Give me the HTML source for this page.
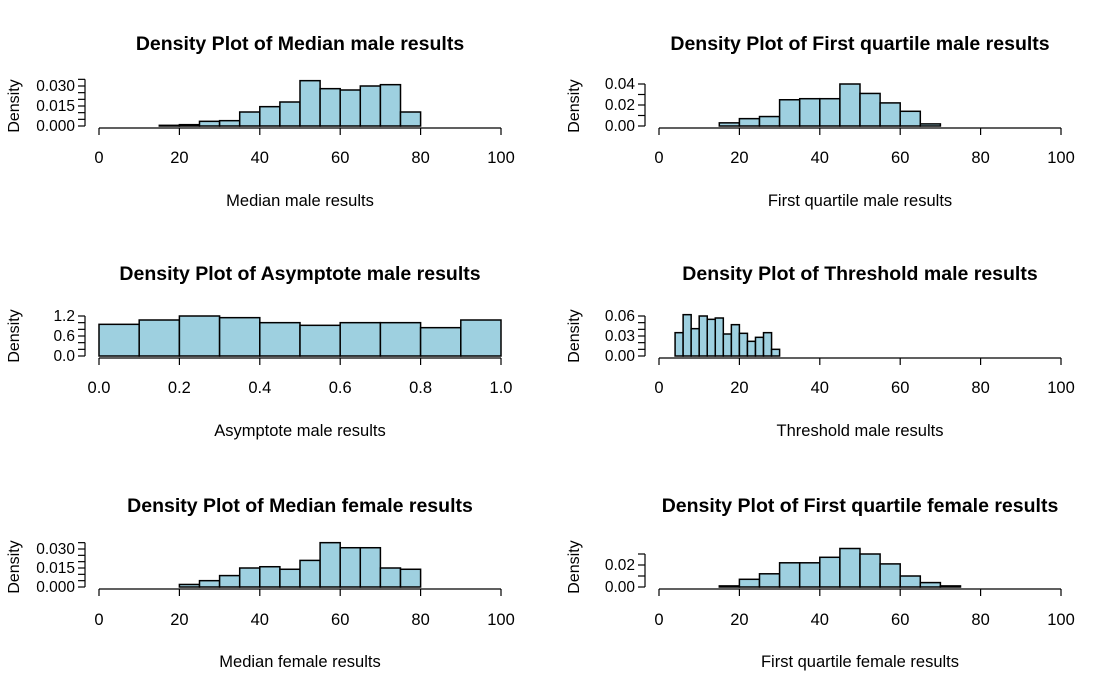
<!DOCTYPE html>
<html><head><meta charset="utf-8">
<style>
body{margin:0;background:#fff;}
svg{display:block;font-family:"Liberation Sans",Arial,sans-serif;}
</style></head>
<body>
<svg id="c" width="1120" height="692" viewBox="0 0 1120 692"></svg>
<script>
const titles=["Density Plot of Median male results","Density Plot of First quartile male results","Density Plot of Asymptote male results","Density Plot of Threshold male results","Density Plot of Median female results","Density Plot of First quartile female results"];
const xLabels=["Median male results","First quartile male results","Asymptote male results","Threshold male results","Median female results","First quartile female results"];
const binStarts=[15,15,0,4,20,15];
const binWidths=[5,5,0.1,2,5,5];
const dens1=[0.0005,0.001,0.0035,0.004,0.0105,0.0145,0.018,0.034,0.028,0.027,0.030,0.031,0.0105];
const dens2=[0.003,0.007,0.009,0.025,0.026,0.026,0.040,0.031,0.022,0.014,0.002];
const dens3=[0.95,1.08,1.2,1.15,1.0,0.92,1.0,1.0,0.85,1.08];
const dens4=[0.035,0.062,0.041,0.06,0.055,0.057,0.033,0.047,0.034,0.022,0.028,0.035,0.01];
const dens5=[0.002,0.005,0.009,0.015,0.016,0.014,0.021,0.035,0.031,0.031,0.015,0.014];
const dens6=[0.001,0.007,0.012,0.022,0.022,0.027,0.035,0.030,0.021,0.010,0.004,0.001];
const xMax=[100,100,1,100,100,100];
const xTickStep=[20,20,0.2,20,20,20];
const yTickStep=[0.005,0.01,0.2,0.01,0.005,0.01];
const yTickMax=[0.035,0.04,1.2,0.06,0.035,0.03];
const yLabelVals=[[0,0.015,0.030],[0,0.02,0.04],[0,0.6,1.2],[0,0.03,0.06],[0,0.015,0.030],[0,0.02]];
const yDigits=[3,2,1,2,3,2];
const allDens=[dens1,dens2,dens3,dens4,dens5,dens6];
const colX0=[99,659],plotW=402;
const rowBase=[126,356,587],rowTitle=[43,273,505],rowXtick=[157,387,619],rowXlab=[200,430,661];
const pxPerUnit=[40/0.030,42/0.04,40/1.2,40/0.06,38/0.030,33/0.03];
const NS="http://www.w3.org/2000/svg";
const svg=document.getElementById('c');
function mk(t,a,p){const e=document.createElementNS(NS,t);for(const k in a)e.setAttribute(k,a[k]);(p||svg).appendChild(e);return e;}
for(let i=0;i<6;i++){
  const col=i%2,row=Math.floor(i/2);
  const g=mk('g',{});
  
  
  const x0=colX0[col],base=rowBase[row];
  const sx=v=>x0+v/xMax[i]*plotW;
  const sy=v=>base-v*pxPerUnit[i];
  const t=mk('text',{x:x0+plotW/2,y:rowTitle[row]+7,'text-anchor':'middle','font-size':'19.5','font-weight':'bold'},g);
  t.textContent=titles[i];
  
  
  allDens[i].forEach((v,j)=>{
    const a=binStarts[i]+j*binWidths[i],b=a+binWidths[i];
    const r=mk('rect',{x:sx(a),y:sy(v),width:sx(b)-sx(a),height:base-sy(v),fill:'#9ed0e0',stroke:'#000','stroke-width':1.5},g);
    
    
  });
  const ax=mk('g',{stroke:'#000','stroke-width':1.2},g);
  
  
  const ay=base+2;
  mk('line',{x1:x0,x2:x0+plotW,y1:ay,y2:ay},ax);
  for(let v=0;v<=xMax[i]+1e-9;v+=xTickStep[i]){
    mk('line',{x1:sx(v),x2:sx(v),y1:ay,y2:ay+7},ax);
    const tl=mk('text',{x:sx(v),y:rowXtick[row]+6,'text-anchor':'middle','font-size':'16.5',stroke:'none'},g);
    tl.textContent=xMax[i]===1?v.toFixed(1):Math.round(v);
    
    
  }
  const xl=mk('text',{x:x0+plotW/2,y:rowXlab[row]+6,'text-anchor':'middle','font-size':'16.5'},g);
  xl.textContent=xLabels[i];
  
  
  const yx=x0-14;
  const yax=mk('g',{stroke:'#000','stroke-width':1.2},g);
  
  
  mk('line',{x1:yx,x2:yx,y1:sy(0),y2:sy(yTickMax[i])},yax);
  for(let v=0;v<=yTickMax[i]+1e-9;v+=yTickStep[i]){
    mk('line',{x1:yx,x2:yx-7,y1:sy(v),y2:sy(v)},yax);
  }
  yLabelVals[i].forEach(v=>{
    const yl=mk('text',{x:yx-10,y:sy(v)+5,'text-anchor':'end','font-size':'15.5'},g);
    yl.textContent=v.toFixed(yDigits[i]);
    
    
  });
  const cy=sy(0)-20;
  const dl=mk('text',{x:x0-80,y:cy,'text-anchor':'middle','font-size':'16',transform:`rotate(-90 ${x0-80} ${cy})`},g);
  dl.textContent='Density';
  
  
}
</script>
</body></html>
